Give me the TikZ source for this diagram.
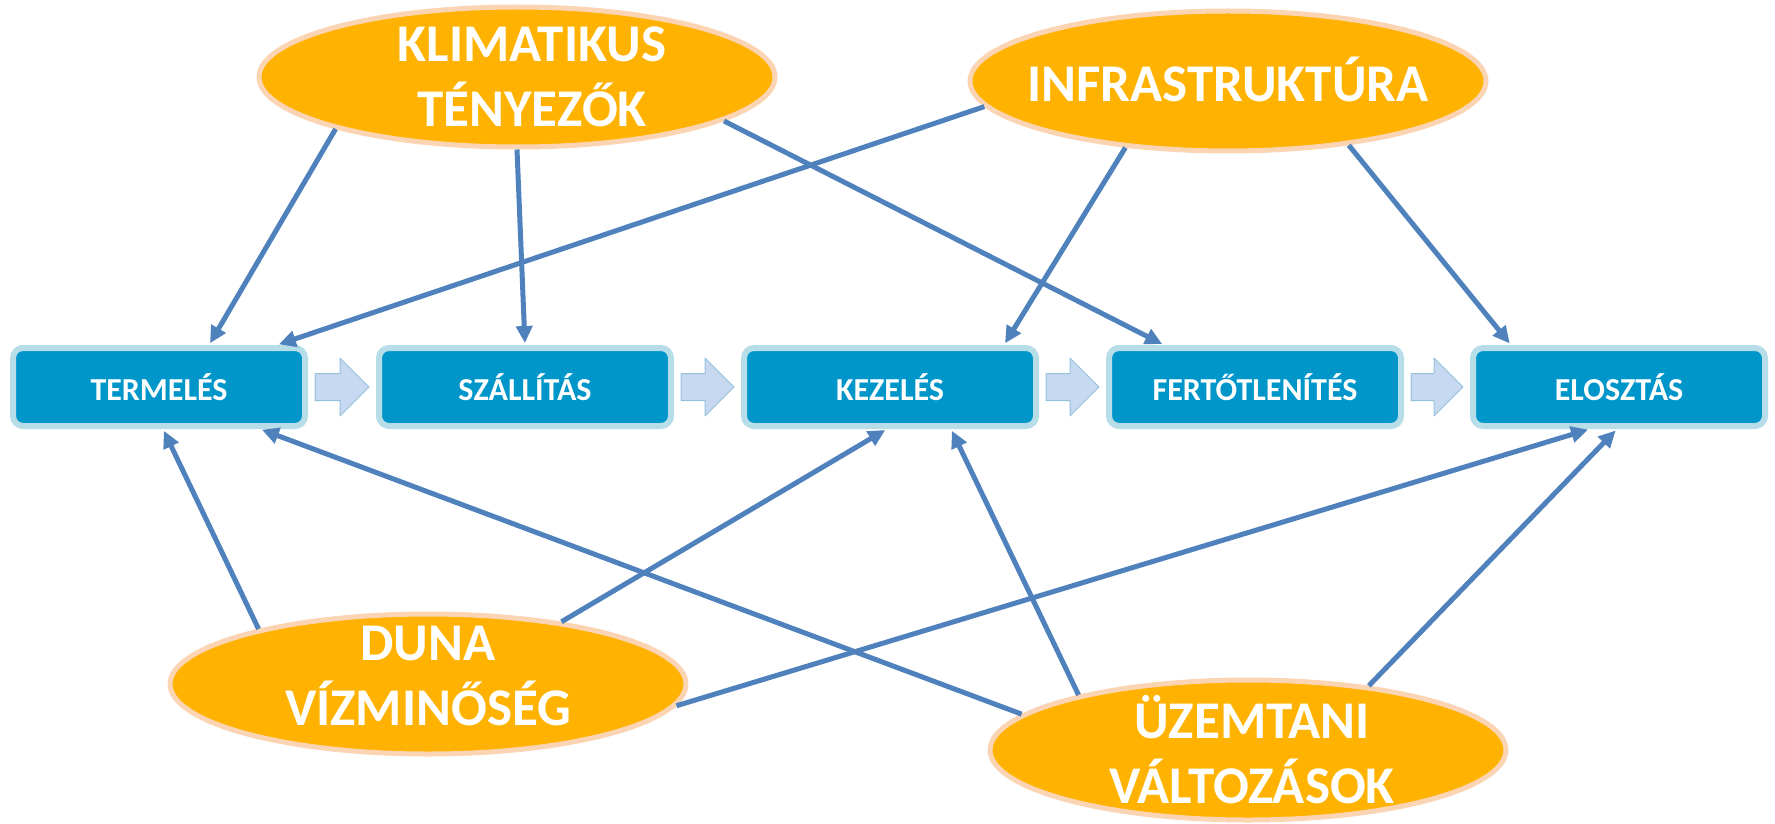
\documentclass[tikz,border=0pt]{standalone}
\usepackage{fontspec}
\setmainfont{Carlito}
\usetikzlibrary{arrows.meta,shapes.geometric}
\definecolor{boxblue}{HTML}{0096C9}
\definecolor{boxrim}{HTML}{B7DEE8}
\definecolor{gold}{HTML}{FFB300}
\definecolor{peach}{HTML}{FBD4B4}
\definecolor{linkblue}{HTML}{4F81BD}
\definecolor{flowfill}{HTML}{C6D9F1}
\definecolor{flowrim}{HTML}{95C0DC}
\begin{document}
\begin{tikzpicture}[x=1pt,y=-1pt,line join=round,
	phase/.style={draw=boxrim,line width=6pt,fill=boxblue,rounded corners=10pt,
		minimum width=292pt,minimum height=78pt,inner sep=0pt,text=white,
		font=\fontsize{32}{38}\selectfont\bfseries},
	factor/.style={ellipse,draw=peach,line width=5pt,fill=gold,
		minimum width=516pt,minimum height=140pt,inner sep=0pt},
	factortext/.style={text=white,align=center,inner sep=0pt,
		font=\fontsize{53}{65}\selectfont\bfseries},
	link/.style={draw=linkblue,line width=5pt,-{Triangle[length=17pt,width=16pt]},shorten >=2pt},
	flow/.style={draw=flowrim,fill=flowfill,line width=1pt}]
	\useasboundingbox (0,0) rectangle (1775,824);
	% folyamat
	\node[phase] (termeles) at (159,387) {TERMELÉS};
	\node[phase] (szallitas) at (525,387) {SZÁLLÍTÁS};
	\node[phase] (kezeles) at (890,387) {KEZELÉS};
	\node[phase] (fert) at (1255,387) {FERTŐTLENÍTÉS};
	\node[phase] (eloszt) at (1619,387) {ELOSZTÁS};
	\foreach \a/\b in {termeles/szallitas,szallitas/kezeles,kezeles/fert,fert/eloszt}{
		\draw[flow] ([xshift=7,yshift=13.5]\a.east)--([xshift=-36,yshift=13.5]\b.west)
		--([xshift=-36,yshift=29]\b.west)--([xshift=-7]\b.west)
		--([xshift=-36,yshift=-29]\b.west)--([xshift=-36,yshift=-13.5]\b.west)
		--([xshift=7,yshift=-13.5]\a.east)--cycle;}
	% tenyezok
	\node[factor] (klima) at (517,77) {};
	\node[factor] (infra) at (1228,81) {};
	\node[factor] (duna) at (428,684) {};
	\node[factor] (uzem) at (1248,750) {};
	\node[factortext] (klimatxt) at ([xshift=15]klima.center) {KLIMATIKUS\\TÉNYEZŐK};
	\node[factortext] (infratxt) at ([yshift=2]infra.center) {INFRASTRUKTÚRA};
	\node[factortext] (dunatxt) at ([yshift=8]duna.center) {DUNA\\VÍZMINŐSÉG};
	\node[factortext] (uzemtxt) at ([xshift=4]uzem.center) {ÜZEMTANI\\VÁLTOZÁSOK};
	% hatasok
	\foreach \f/\a/\b/\s in {klima/196/termeles.north/50,klima/270/szallitas.north/0,
		klima/348/fert.north/-91,infra/186/termeles.north/118,infra/213/kezeles.north/114,
		infra/332/eloszt.north/-108,duna/162/termeles.south/4,duna/25/kezeles.south/-3,
		duna/355/eloszt.south/-29,uzem/171/termeles.south/101,uzem/162/kezeles.south/61,
		uzem/28/eloszt.south/-2}{
		\draw[link] (\f.\a)--([xshift=\s]\b);}
\end{tikzpicture}
\end{document}
